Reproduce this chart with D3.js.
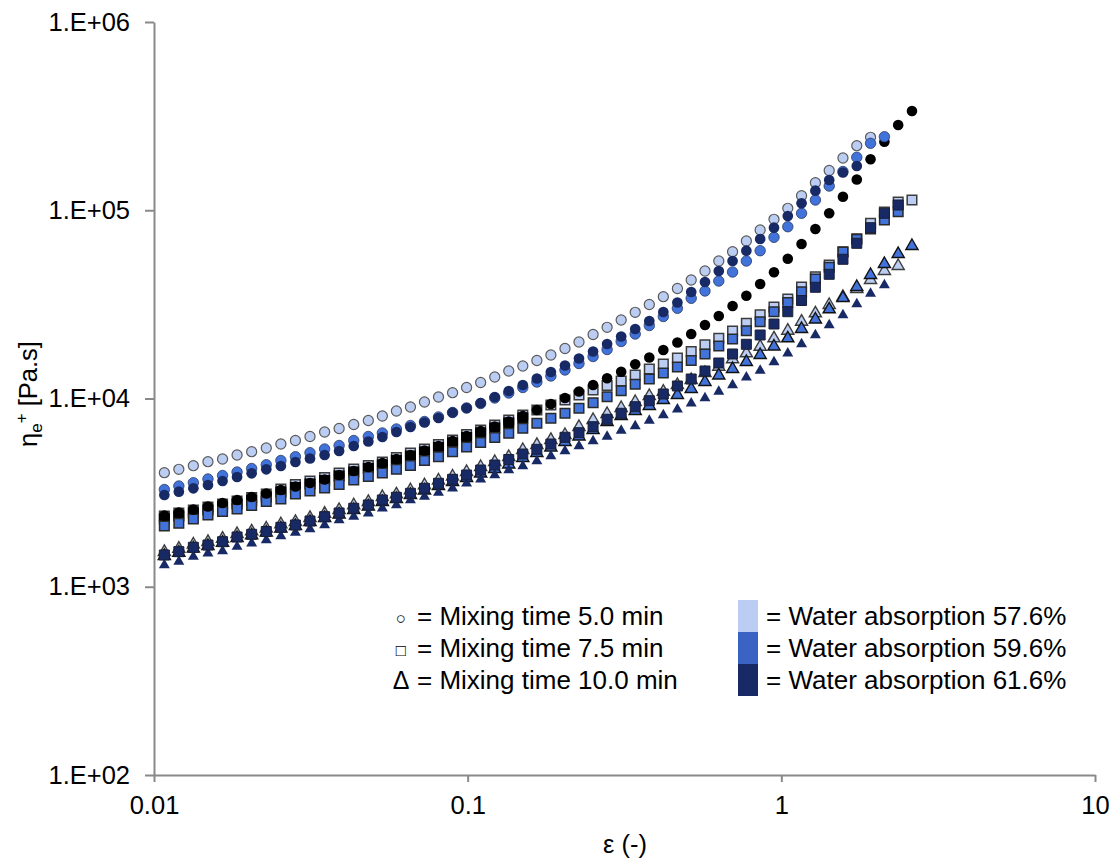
<!DOCTYPE html>
<html>
<head>
<meta charset="utf-8">
<script src="https://cdn.jsdelivr.net/npm/d3@7"></script>
<style>
  body { margin: 0; background: #fff; }
  text { font-family: "Liberation Sans", Arial, sans-serif; fill: #000; }
</style>
</head>
<body>
<svg id="chart" width="1115" height="861"></svg>
<script>
// Hencky strain, shared by every series (each series uses as many points as it has)
const strain = [0.01079, 0.01200, 0.01335, 0.01486, 0.01654, 0.01840, 0.02048, 0.02280, 0.02538, 0.02824,
  0.03143, 0.03499, 0.03892, 0.04333, 0.04823, 0.05346, 0.05927, 0.06570, 0.07284, 0.08072,
  0.08951, 0.09921, 0.1100, 0.1220, 0.1352, 0.1499, 0.1662, 0.1842, 0.2043, 0.2264,
  0.2511, 0.2783, 0.3086, 0.3421, 0.3794, 0.4205, 0.4663, 0.5160, 0.5709, 0.6318,
  0.6991, 0.7736, 0.8560, 0.9475, 1.0485, 1.160, 1.284, 1.421, 1.572, 1.740,
  1.925, 2.131, 2.358, 2.609];

// transient extensional viscosity [Pa.s]
const circ576 = [4035, 4206, 4395, 4616, 4771, 5010, 5216, 5459, 5732, 5983,
  6283, 6639, 6929, 7276, 7641, 8073, 8582, 9012, 9581, 10186,
  10736, 11441, 12162, 13009, 13999, 14882, 15917, 17025, 18433, 19959,
  21876, 23892, 26121, 28703, 31574, 34735, 38400, 42608, 47568, 53758,
  60234, 68650, 78537, 89528, 102423, 119482, 140075, 162615, 189481, 220239, 244090];
const circ596 = [3285, 3429, 3570, 3736, 3899, 4069, 4247, 4449, 4684, 4907,
  5153, 5392, 5628, 5983, 6283, 6558, 6887, 7188, 7548, 7975,
  8426, 8903, 9407, 10062, 10697, 11441, 12237, 13169, 14171, 15344,
  16716, 18209, 20081, 22010, 24422, 27264, 30142, 34065, 37244, 42089,
  46990, 53758, 60975, 71833, 81771, 96347, 113360, 134534, 160638, 191125, 226818, 245869];
const circ616 = [3072, 3198, 3334, 3471, 3645, 3828, 4005, 4206, 4379, 4599,
  4800, 5010, 5261, 5594, 5910, 6245, 6639, 7057, 7456, 7878,
  8426, 8903, 9464, 10186, 10961, 11796, 12772, 13829, 14973, 16312,
  17770, 19476, 21348, 23399, 25804, 28807, 32356, 36791, 41578, 47568,
  53758, 60975, 70349, 80777, 93210, 108883, 127018, 144779, 158684, 171817];
const circBlack = [2391, 2480, 2573, 2669, 2786, 2890, 2997, 3129, 3265, 3408,
  3557, 3713, 3923, 4120, 4326, 4543, 4771, 5010, 5294, 5594,
  5946, 6322, 6720, 7100, 7548, 8073, 8688, 9349, 10062, 10894,
  11796, 12805, 13880, 15196, 16512, 18099, 19837, 22010, 24572, 27431,
  31000, 35163, 40573, 46821, 55292, 66176, 79503, 96347, 118029, 145667,
  186503, 231284, 283700, 336692];
const sqBlack = [2291, 2376, 2465, 2557, 2653, 2752, 2872, 2997, 3187, 3367,
  3514, 3668, 3875, 4069, 4247, 4433, 4684, 4949, 5197, 5492,
  5803, 6207, 6558, 6971, 7410, 7878];
const sq576 = [2376, 2465, 2557, 2653, 2752, 2855, 2979, 3109, 3306, 3493,
  3645, 3805, 4020, 4221, 4406, 4599, 4859, 5134, 5392, 5697,
  6020, 6439, 6803, 7232, 7687, 8172, 8688, 9235, 9818, 10438,
  11096, 11724, 12388, 13331, 14346, 15250, 16412, 17770, 19310, 20884,
  22833, 25090, 27870, 30623, 33772, 39111, 44362, 51191, 60234, 70606,
  85255, 97884, 110620, 113360];
const sq596 = [2102, 2173, 2291, 2406, 2511, 2589, 2702, 2837, 2925, 3109,
  3226, 3346, 3493, 3690, 3852, 4020, 4206, 4406, 4684, 4907,
  5216, 5526, 5838, 6207, 6534, 6946, 7384, 7849, 8345, 8871,
  9499, 10223, 11002, 11898, 12694, 13661, 14701, 15917, 17235, 19006,
  20705, 22917, 25584, 28912, 32356, 36926, 43132, 49774, 60014, 70097,
  79503, 88760, 98244];
const sq616 = [1475, 1536, 1620, 1666, 1735, 1838, 1899, 1965, 2069, 2128,
  2235, 2356, 2465, 2611, 2719, 2890, 2987, 3136, 3334, 3545,
  3722, 3923, 4170, 4433, 4742, 5072, 5373, 5732, 6222, 6582,
  7083, 7754, 8345, 9045, 9734, 10566, 11653, 12694, 13999, 15438,
  17235, 19406, 21743, 24874, 28912, 33158, 38971, 45690, 54891, 66750,
  80777, 96347, 106634];
const tri576 = [1530, 1593, 1676, 1729, 1800, 1906, 1970, 2039, 2147, 2208,
  2319, 2444, 2557, 2709, 2820, 2997, 3098, 3254, 3459, 3668,
  3852, 4069, 4326, 4599, 4889, 5326, 5663, 6020, 6399, 7057,
  7687, 8273, 8903, 9581, 10311, 10868, 11796, 12540, 13661, 14755,
  16154, 17384, 18843, 20884, 22917, 25584, 28354, 31382, 34608, 38166,
  42608, 47568, 50568];
const tri596 = [1457, 1517, 1596, 1646, 1714, 1815, 1876, 1941, 2039, 2102,
  2208, 2319, 2420, 2557, 2669, 2820, 2925, 3072, 3245, 3429,
  3601, 3782, 3995, 4221, 4460, 4830, 5134, 5492, 5874, 6283,
  6803, 7502, 8073, 8582, 9123, 9818, 10438, 11233, 12237, 13250,
  14346, 15628, 17025, 18890, 20884, 23399, 26281, 29776, 34188, 39111,
  45295, 51821, 58563, 64577];
const tri616 = [1305, 1359, 1445, 1506, 1549, 1632, 1701, 1771, 1860, 1941,
  2026, 2128, 2263, 2356, 2456, 2611, 2719, 2890, 3016, 3159,
  3334, 3545, 3722, 3923, 4170, 4379, 4655, 4949, 5261, 5594,
  5946, 6268, 6761, 7144, 7622, 8172, 8763, 9430, 10062, 10868,
  11796, 12962, 14085, 15628, 17384, 19476, 21743, 24572, 27769, 31768,
  36122, 40080];

const mixSymbols = ["\u25CB", "\u25A1", "\u0394"];
const mixLabels = ["= Mixing time 5.0 min", "= Mixing time 7.5 min", "= Mixing time 10.0 min"];
const waterLabels = ["= Water absorption 57.6%", "= Water absorption 59.6%", "= Water absorption 61.6%"];
const yTicks = [1e2, 1e3, 1e4, 1e5, 1e6];
const xTicks = [0.01, 0.1, 1, 10];

const LIGHT = "#bccdf3";
const MID = "#4273da";
const NAVY = "#182a66";
const waterColors = [LIGHT, "#3b63c4", NAVY];

const width = 1115;
const height = 861;
const margin = { top: 22, right: 20, bottom: 86, left: 154 };

const svg = d3.select("#chart");

const x = d3.scaleLog().domain([0.01, 10]).range([margin.left, width - margin.right]);
const y = d3.scaleLog().domain([100, 1e6]).range([height - margin.bottom, margin.top]);

const axisColor = "#898989";

const xAxis = svg.append("g")
  .attr("transform", `translate(0,${height - margin.bottom})`)
  .call(d3.axisBottom(x).tickValues(xTicks).tickFormat(d => String(d))
    .tickSize(7).tickSizeOuter(0).tickPadding(14));

const yAxis = svg.append("g")
  .attr("transform", `translate(${margin.left},0)`)
  .call(d3.axisLeft(y).tickValues(yTicks)
    .tickFormat(d => "1.E+0" + Math.round(Math.log10(d)))
    .tickSize(9).tickSizeOuter(0).tickPadding(15));

[xAxis, yAxis].forEach(g => {
  g.select(".domain").attr("stroke", axisColor).attr("stroke-width", 2);
  g.selectAll(".tick line").attr("stroke", axisColor).attr("stroke-width", 2);
  g.selectAll(".tick text")
    .attr("fill", "#000")
    .style("font-family", "'Liberation Sans', Arial, sans-serif")
    .style("font-size", "25.5px");
});

// draw order matters: later series sit on top
const series = [
  { values: tri576, type: d3.symbolTriangle, size: 64, fill: LIGHT, stroke: "#3c3c3c", sw: 1.4 },
  { values: tri596, type: d3.symbolTriangle, size: 64, fill: MID, stroke: "#111", sw: 1.4 },
  { values: tri616, type: d3.symbolTriangle, size: 52, fill: NAVY, stroke: "none", sw: 0 },
  { values: sq576, type: d3.symbolSquare, size: 92, fill: LIGHT, stroke: "#3c3c3c", sw: 1.5 },
  { values: sqBlack, type: d3.symbolSquare, size: 92, fill: "#000", stroke: "#000", sw: 1.5 },
  { values: sq596, type: d3.symbolSquare, size: 92, fill: MID, stroke: "#2a2a2a", sw: 1.5 },
  { values: sq616, type: d3.symbolSquare, size: 100, fill: NAVY, stroke: "#1a1f33", sw: 1 },
  { values: circBlack, type: d3.symbolCircle, size: 88, fill: "#000", stroke: "none", sw: 0 },
  { values: circ576, type: d3.symbolCircle, size: 80, fill: LIGHT, stroke: "#5a5a5a", sw: 1.2 },
  { values: circ596, type: d3.symbolCircle, size: 86, fill: MID, stroke: "#2b3a66", sw: 0.8 },
  { values: circ616, type: d3.symbolCircle, size: 90, fill: NAVY, stroke: "none", sw: 0 }
];

series.forEach(s => {
  const pts = s.values.map((v, i) => ({ e: strain[i], eta: v }));
  svg.append("g")
    .selectAll("path")
    .data(pts)
    .enter()
    .append("path")
    .attr("transform", d => `translate(${x(d.e)},${y(d.eta)})`)
    .attr("d", d3.symbol().type(s.type).size(s.size))
    .attr("fill", s.fill)
    .attr("stroke", s.stroke)
    .attr("stroke-width", s.sw);
});

// axis titles
svg.append("text")
  .attr("x", 625)
  .attr("y", 853)
  .attr("text-anchor", "middle")
  .style("font-size", "25.5px")
  .text("\u03B5 (-)");

const yTitle = svg.append("text")
  .attr("transform", "translate(37,394) rotate(-90)")
  .attr("text-anchor", "middle")
  .style("font-size", "25.5px");
yTitle.append("tspan").text("\u03B7");
yTitle.append("tspan").attr("dy", 5).style("font-size", "17px").text("e");
yTitle.append("tspan").attr("dy", -15).style("font-size", "17px").text("+");
yTitle.append("tspan").attr("dy", 10).text(" [Pa.s]");

// legend
const legendRows = [625, 657, 689];

svg.append("g")
  .selectAll("text")
  .data(mixSymbols)
  .enter()
  .append("text")
  .attr("x", 401)
  .attr("y", (d, i) => legendRows[i] - (i < 2 ? 1 : 0))
  .attr("text-anchor", "middle")
  .style("font-size", (d, i) => (i < 2 ? "17px" : "25px"))
  .text(d => d);

svg.append("g")
  .selectAll("text")
  .data(mixLabels)
  .enter()
  .append("text")
  .attr("x", 417)
  .attr("y", (d, i) => legendRows[i])
  .style("font-size", "26px")
  .text(d => d);

svg.append("g")
  .selectAll("rect")
  .data(waterColors)
  .enter()
  .append("rect")
  .attr("x", 738)
  .attr("y", (d, i) => 600 + i * 32)
  .attr("width", 20)
  .attr("height", 32)
  .attr("fill", d => d);

svg.append("g")
  .selectAll("text")
  .data(waterLabels)
  .enter()
  .append("text")
  .attr("x", 766)
  .attr("y", (d, i) => legendRows[i])
  .style("font-size", "26px")
  .text(d => d);
</script>
</body>
</html>
